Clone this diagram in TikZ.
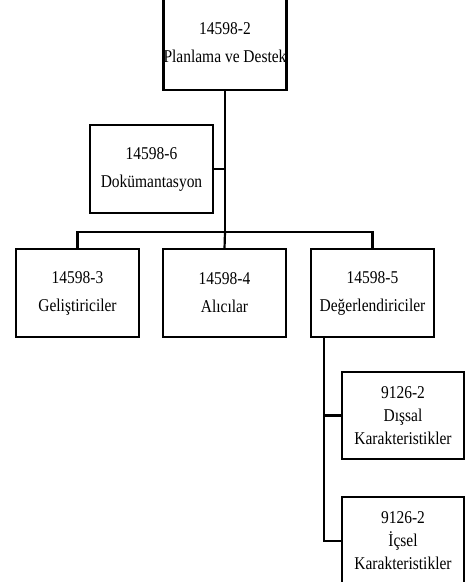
\documentclass[tikz,border=0pt]{standalone}
\usepackage{fontspec}
\setmainfont{Liberation Serif}[FakeStretch=0.86]
\usetikzlibrary{positioning}

\begin{document}
\begin{tikzpicture}[
  x=1pt, y=-1pt,
  font=\fontsize{18}{28}\selectfont,
  box/.style={rectangle, draw, line width=2.2pt, align=center, inner sep=0pt, outer sep=0pt, minimum width=123pt, minimum height=88pt},
  tall/.style={box, font=\fontsize{18}{23}\selectfont},
  link/.style={line width=2.2pt}
]
\useasboundingbox (0,0) rectangle (464,582);
% Top: planning box, cut by the upper edge
\node[box, minimum width=122pt, minimum height=94pt] (plan) at (225,43) {14598-2\\Planlama ve Destek};
\node[box] (doc) at (151.5,169) {14598-6\\Dokümantasyon};
% Row of three under the bus
\node[box] (dev) at (77.5,293) {14598-3\\Geliştiriciler};
\node[box, right=24pt of dev] (acq) {14598-4\\Alıcılar};
\node[box, right=25pt of acq] (eval) {14598-5\\Değerlendiriciler};
% Sub boxes under the evaluators
\node[tall, minimum width=122pt, minimum height=87pt] (ext) at (403,415.5) {9126-2\\Dışsal\\Karakteristikler};
\node[tall, minimum width=122pt] (int) at (403,541) {9126-2\\İçsel\\Karakteristikler};
\coordinate (bus) at (225,232);
\coordinate (trunk) at ([xshift=13pt]eval.south west);
\draw[link] (plan.south) -- (bus);
\draw[link] (doc.east) -- (doc.east -| plan.south);
\draw[link] (dev.north) |- (bus) -| (eval.north);
\draw[link] (acq.north) -- (bus);
\draw[link] (trunk) |- (int.west);
\draw[link] (ext.west) -- (ext.west -| trunk);
\end{tikzpicture}
\end{document}
